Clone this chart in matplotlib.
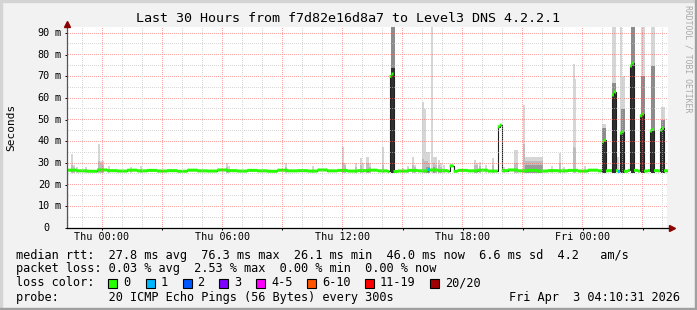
import numpy as np
import matplotlib
matplotlib.use('Agg')
import matplotlib.pyplot as plt
from matplotlib.patches import Rectangle

W, H = 697, 310

# time axis: hours from Thu 00:00, graph covers Wed 22:15 .. Fri 04:15
t_start, t_end = -1.75, 28.25
step_h = 6 / 60.0  # one consolidated column = 6 min

# median rtt baseline (ms), one value per 30 min
base_med = [26.7, 26.4, 26.2, 26.8, 26.5, 26.3, 26.7, 26.4, 26.6, 26.3,
            26.5, 26.2, 26.7, 26.4, 26.3, 26.8, 26.5, 26.3, 26.6, 26.4,
            26.2, 26.7, 26.4, 26.5, 26.3, 26.8, 26.4, 26.6, 26.3, 26.5,
            26.7, 26.4, 26.1, 26.3, 26.6, 26.4, 26.8, 26.5, 26.2, 26.6,
            26.4, 26.7, 26.3, 26.5, 26.8, 26.4, 26.6, 26.3, 26.5, 26.4,
            26.6, 26.3, 26.7, 26.4, 26.5, 26.2, 26.6, 26.3, 26.5, 26.4]

# median spikes: start hour, median per column
spike_start = [14.4, 17.4, 19.75, 24.95, 25.45, 25.9, 26.4, 26.9, 27.4, 27.9]
spike_med = [[70.0, 71.1], [28.7, 28.7], [46.7, 47.5], [39.8, 40.5], [61.4, 62.9],
             [43.8, 44.4], [74.8, 76.1], [51.8, 52.6], [44.8, 45.4], [45.2, 46.0]]

# columns with lost pings
loss_t = [16.3, 25.75]
loss_n = [1, 1]

# smoke (spread of the 20 pings): start hour, columns, top, mid-grey top, dark top
smoke_lo = 25.6
smoke_t = [-1.55, -1.45, -1.3, -0.85, -0.2, -0.1, 0.0, 0.3, 1.4, 1.9,
           6.2, 6.3, 9.15, 10.5, 11.98, 12.07, 12.65, 12.9, 13.0, 13.2,
           13.3, 13.98, 14.4, 14.95, 15.2, 15.48, 15.57, 15.98, 16.07, 16.17,
           16.25, 16.4, 16.5, 16.6, 16.75, 16.85, 17.0, 18.57, 18.67, 18.8,
           19.1, 19.48, 20.0, 20.57, 21.0, 21.12, 22.4, 22.8, 23.0, 23.5,
           23.58, 24.05, 24.95, 25.45, 25.72, 25.83, 25.9, 26.4, 26.9, 27.4,
           27.9]
smoke_n = [1, 1, 1, 1, 1, 1, 1, 1, 1, 1,
           1, 1, 1, 1, 1, 1, 1, 1, 1, 1,
           1, 1, 2, 1, 1, 1, 1, 1, 1, 1,
           1, 1, 1, 1, 1, 1, 1, 1, 1, 1,
           1, 1, 1, 2, 1, 9, 1, 1, 1, 1,
           1, 1, 2, 2, 1, 1, 2, 2, 2, 2,
           2]
smoke_hi = [34, 29, 28, 28, 38.8, 31, 31, 28.6, 28, 28.5,
            30, 28.5, 30, 28.5, 37.5, 30, 30, 32.3, 30, 33,
            30, 37.5, 95, 27.8, 28.5, 33, 29, 58, 55, 35,
            35, 95, 33, 33, 31.4, 30, 29, 31.4, 30, 30.5,
            29, 32.5, 28, 36, 56.8, 33, 28.6, 34.6, 28.3, 75.7,
            69, 28.6, 48, 95, 33, 95, 70, 95, 95, 95,
            56]
smoke_mid = [29, 28, 0, 0, 31, 30, 29, 0, 0, 0,
             28, 0, 28, 0, 30, 29, 28, 29, 0, 30,
             28, 29, 95, 0, 0, 29, 28, 32, 31, 31,
             30, 0, 30, 29, 29, 28, 0, 29, 29, 28.5,
             0, 29, 0, 30, 39, 31, 0, 30, 0, 37.5,
             37, 0, 46, 67, 0, 0, 55, 95, 70, 75,
             50]
smoke_dark = [0, 0, 0, 0, 0, 0, 0, 0, 0, 0,
              0, 0, 0, 0, 0, 0, 0, 0, 0, 0,
              0, 0, 74, 0, 0, 0, 0, 0, 0, 28,
              28, 0, 28, 0, 0, 0, 0, 0, 0, 0,
              0, 0, 0, 0, 0, 29, 0, 0, 0, 0,
              0, 0, 40, 62, 0, 0, 44, 75, 52, 45,
              46]

xtick_hours = [0, 6, 12, 18, 24]
xtick_labels = ['Thu 00:00', 'Thu 06:00', 'Thu 12:00', 'Thu 18:00', 'Fri 00:00']
ytick_vals = [0, 10, 20, 30, 40, 50, 60, 70, 80, 90]

loss_labels = ['0', '1', '2', '3', '4-5', '6-10', '11-19', '20/20']
loss_colors = ['#26ff00', '#00b8ff', '#0059ff', '#7e00ff', '#ff00ff', '#ff5500', '#ff0000', '#a10000']

title = 'Last 30 Hours from f7d82e16d8a7 to Level3 DNS 4.2.2.1'
stat_lines = ['median rtt:  27.8 ms avg  76.3 ms max  26.1 ms min  46.0 ms now  6.6 ms sd  4.2   am/s',
              'packet loss: 0.03 % avg  2.53 % max  0.00 % min  0.00 % now',
              'loss color:',
              'probe:       20 ICMP Echo Pings (56 Bytes) every 300s']
stamp = 'Fri Apr  3 04:10:31 2026'

# ---- build the median series, one value per column
n_steps = int(round((t_end - t_start) / step_h))
edges = t_start + np.arange(n_steps + 1) * step_h
per_base = int(round(0.5 / step_h))
med = np.array([base_med[k // per_base] for k in range(n_steps)], dtype=float)
for s, vals in zip(spike_start, spike_med):
    k0 = int(round((s - t_start) / step_h))
    for j, v in enumerate(vals):
        med[k0 + j] = v

plt.rcParams['font.family'] = ['DejaVu Sans Mono']
fig = plt.figure(figsize=(W / 100, H / 100), dpi=100)
fig.patch.set_facecolor('#f2f2f2')

def fx(x):
    return x / W

def fy(y):
    return 1 - y / H

ax = fig.add_axes([fx(67), fy(228), 601 / W, 201 / H])
ax.set_facecolor('white')
ax.set_xlim(t_start, t_end)
ax.set_ylim(0, 92.8)
for s in ax.spines.values():
    s.set_visible(False)

# smoke
for t, n, hi, mid, dark in zip(smoke_t, smoke_n, smoke_hi, smoke_mid, smoke_dark):
    ax.bar(t, hi - smoke_lo, width=n * step_h, bottom=smoke_lo, align='edge',
           color='#d6d6d6', linewidth=0, zorder=1)
    if mid > 0:
        ax.bar(t, mid - smoke_lo, width=n * step_h, bottom=smoke_lo, align='edge',
               color='#8c8c8c' if mid > 40 else '#bdbdbd', linewidth=0, zorder=1.1)
    if dark > 0:
        ax.bar(t, dark - smoke_lo, width=n * step_h, bottom=smoke_lo, align='edge',
               color='#303030' if dark > 35 else '#9a9a9a', linewidth=0, zorder=1.2)

# median: thin dark line + 3px band coloured by loss
sw = 0.69
ax.stairs(med, edges, color='#202020', lw=0.8, zorder=3)
ax.stairs(med + sw, edges, baseline=med - sw, fill=True, color=loss_colors[0],
          linewidth=0, zorder=4)
for t, n in zip(loss_t, loss_n):
    k = int(round((t - t_start) / step_h))
    ax.bar(edges[k], 2 * sw, width=step_h, bottom=med[k] - sw, align='edge',
           color=loss_colors[n], linewidth=0, zorder=4.1)

# axes with arrows
ax.plot([0, 0], [0, 1.01], transform=ax.transAxes, clip_on=False, color='#555555', lw=0.9, zorder=5)
ax.plot([0, 1.003], [0, 0], transform=ax.transAxes, clip_on=False, color='black', lw=0.9, zorder=5)
ax.plot(0, 1.017, marker='^', ms=4, color='#8b0000', transform=ax.transAxes, clip_on=False, zorder=6)
ax.plot(1.006, 0, marker='>', ms=4, color='#8b0000', transform=ax.transAxes, clip_on=False, zorder=6)

ax.set_xticks(range(0, 29, 3))
ax.set_yticks(ytick_vals)
ax.tick_params(length=1.5, width=0.7, color='black', labelbottom=False, labelleft=False)

# dotted grid, 1px on / 1px off, painted as a pixel overlay on top of the graph
grid_img = np.zeros((H, W, 4))
minor_rgba = [0.75, 0.75, 0.75, 0.6]
major_rgba = [1.0, 0.37, 0.37, 0.56]
bx0, by0 = ax.transAxes.transform((0, 0))
bx1, by1 = ax.transAxes.transform((1, 1))
rows = np.arange(int(round(by0)) + 1, int(round(by1)), 2)
cols = np.arange(int(round(bx0)) + 1, int(round(bx1)), 2)
for v in range(5, 95, 5):
    r = int(ax.transData.transform((t_start, v))[1])
    grid_img[r, cols] = major_rgba if v % 10 == 0 else minor_rgba
for h in range(-1, 29):
    c = int(ax.transData.transform((h, 0))[0])
    grid_img[rows, c] = major_rgba if h % 3 == 0 else minor_rgba
fig.figimage(grid_img, 0, 0, origin='lower', zorder=0.5)

for h, lab in zip(xtick_hours, xtick_labels):
    ax.text(h, -0.047, lab, transform=ax.get_xaxis_transform(), ha='center', va='center', fontsize=7.3)
for v in ytick_vals:
    ax.text(-0.0283, v, str(v), transform=ax.get_yaxis_transform(), ha='right', va='center', fontsize=7.3)
    if v:
        ax.text(-0.0216, v, 'm', transform=ax.get_yaxis_transform(), ha='left', va='center', fontsize=7.3)

# texts
fig.text(fx(347.5), fy(19), title, ha='center', va='center', fontsize=9.6)
fig.text(fx(11), fy(127), 'Seconds', rotation=90, ha='center', va='center', fontsize=8)
fig.text(fx(688), fy(59), 'RRDTOOL / TOBI OETIKER', rotation=270, ha='center', va='center',
         fontsize=5.9, color='#a8a8a8')

line_y = [255, 268.5, 282.5, 297]
for s, y in zip(stat_lines, line_y):
    fig.text(fx(16), fy(y), s, ha='left', va='center', fontsize=8.55)
fig.text(fx(680), fy(297), stamp, ha='right', va='center', fontsize=8.55)

box_x = [108, 145.5, 182.5, 219, 256, 307, 365, 430]
for bx, lab, col in zip(box_x, loss_labels, loss_colors):
    fig.add_artist(Rectangle((fx(bx), fy(287.5)), 9 / W, 9 / H, facecolor=col,
                             edgecolor='black', linewidth=0.8, transform=fig.transFigure))
    fig.text(fx(bx + 15), fy(282.5), lab, ha='left', va='center', fontsize=8.55)

# 3d-ish frame
fig.add_artist(Rectangle((0, fy(2)), 1, 2 / H, color='#d4d4d4', transform=fig.transFigure))
fig.add_artist(Rectangle((0, 0), 2 / W, 1, color='#d4d4d4', transform=fig.transFigure))
fig.add_artist(Rectangle((fx(695), 0), 2 / W, 1, color='#a0a0a0', transform=fig.transFigure))
fig.add_artist(Rectangle((0, 0), 1, 2 / H, color='#a0a0a0', transform=fig.transFigure))

fig.savefig('out.png', dpi=100, facecolor=fig.get_facecolor())
